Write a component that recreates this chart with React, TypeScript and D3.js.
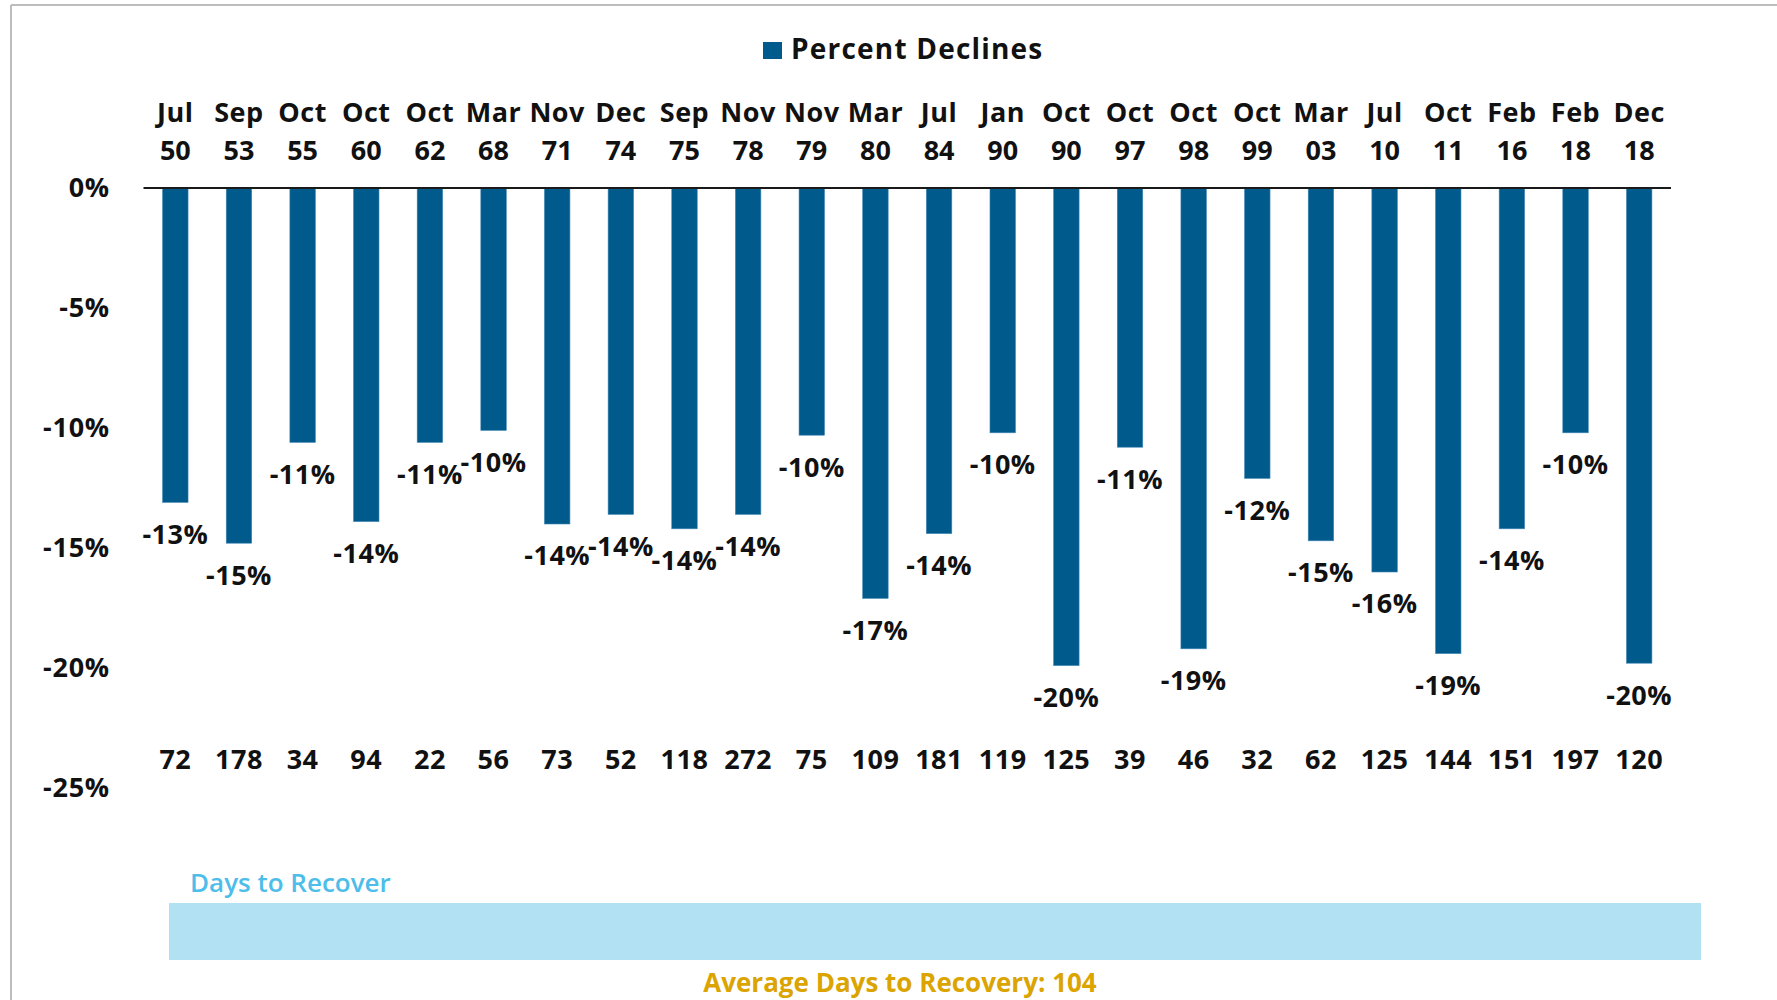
import React from "react";
import * as d3 from "d3";

const months = ["Jul","Sep","Oct","Oct","Oct","Mar","Nov","Dec","Sep","Nov","Nov","Mar","Jul","Jan","Oct","Oct","Oct","Oct","Mar","Jul","Oct","Feb","Feb","Dec"];
const years = ["50","53","55","60","62","68","71","74","75","78","79","80","84","90","90","97","98","99","03","10","11","16","18","18"];
const declines = [-13.1,-14.8,-10.6,-13.9,-10.6,-10.1,-14.0,-13.6,-14.2,-13.6,-10.3,-17.1,-14.4,-10.2,-19.9,-10.8,-19.2,-12.1,-14.7,-16.0,-19.4,-14.2,-10.2,-19.8];
const days = [72,178,34,94,22,56,73,52,118,272,75,109,181,119,125,39,46,32,62,125,144,151,197,120];
const yTicks = [0, -5, -10, -15, -20, -25];
const seriesName = "Percent Declines";
const daysTitle = "Days to Recover";
const avgLabel = "Average Days to Recovery: ";

const W = 1777, H = 1000;
const FONT = "'Open Sans', Lato, sans-serif";
const BAR = "#005a8c";

export default function App() {
  const ids = months.map((_, i) => String(i));
  const x = d3.scaleBand<string>().domain(ids).range([143.5, 1671]).paddingInner(0.6).paddingOuter(0.3);
  const y = d3.scaleLinear().domain([0, -25]).range([188, 788]);
  const avg = Math.round(d3.mean(days) as number);
  const cx = (i: number) => (x(String(i)) as number) + x.bandwidth() / 2;
  const pct = (v: number) => String(Math.round(v)) + "%";

  return (
    <svg width={W} height={H} style={{ position: "absolute", left: 0, top: 0, display: "block" }} fontFamily={FONT}>
      <rect x={0} y={0} width={W} height={H} fill="#fff" />
      {/* frame */}
      <line x1={11} y1={5} x2={W} y2={5} stroke="#bdbdbd" strokeWidth={2} />
      <line x1={11} y1={5} x2={11} y2={H} stroke="#bdbdbd" strokeWidth={2} />

      {/* legend */}
      <rect x={763} y={42} width={19} height={17} fill={BAR} />
      <text x={791} y={59} fontSize={28} fontWeight={700} fill="#111" letterSpacing={1.2}>{seriesName}</text>

      {/* category labels */}
      {months.map((m, i) => (
        <g key={"c" + i} fontSize={27} fontWeight={700} fill="#111" textAnchor="middle">
          <text x={cx(i)} y={122} letterSpacing={0.5}>{m}</text>
          <text x={cx(i)} y={160}>{years[i]}</text>
        </g>
      ))}

      {/* y tick labels */}
      {yTicks.map((t) => (
        <text key={"t" + t} x={110} y={y(t)} dy="0.35em" textAnchor="end" fontSize={27} fontWeight={700} fill="#111" letterSpacing={0.8}>
          {pct(t)}
        </text>
      ))}

      {/* bars */}
      {declines.map((v, i) => (
        <rect key={"b" + i} x={x(String(i))} y={y(0)} width={x.bandwidth()} height={y(v) - y(0)} fill={BAR} stroke="#3f86b3" strokeWidth={0.6} />
      ))}

      {/* zero line */}
      <line x1={143.5} x2={1671} y1={y(0)} y2={y(0)} stroke="#1a1a1a" strokeWidth={2} />

      {/* value labels */}
      {declines.map((v, i) => (
        <text key={"v" + i} x={cx(i)} y={y(v) + 32} dy="0.35em" textAnchor="middle" fontSize={27} fontWeight={700} fill="#111" letterSpacing={0.5}>
          {pct(v)}
        </text>
      ))}

      {/* days */}
      {days.map((d, i) => (
        <text key={"d" + i} x={cx(i)} y={760} dy="0.35em" textAnchor="middle" fontSize={27} fontWeight={700} fill="#111" letterSpacing={0.5}>
          {d}
        </text>
      ))}

      {/* bottom band */}
      <text x={190} y={883} dy="0.35em" fontSize={26} fontWeight={600} fill="#4dbde9">{daysTitle}</text>
      <rect x={169} y={903} width={1532} height={57} fill="#b3e1f4" />
      <text x={900} y={983} dy="0.35em" textAnchor="middle" fontSize={26} fontWeight={700} fill="#dba400">{avgLabel + avg}</text>
    </svg>
  );
}
